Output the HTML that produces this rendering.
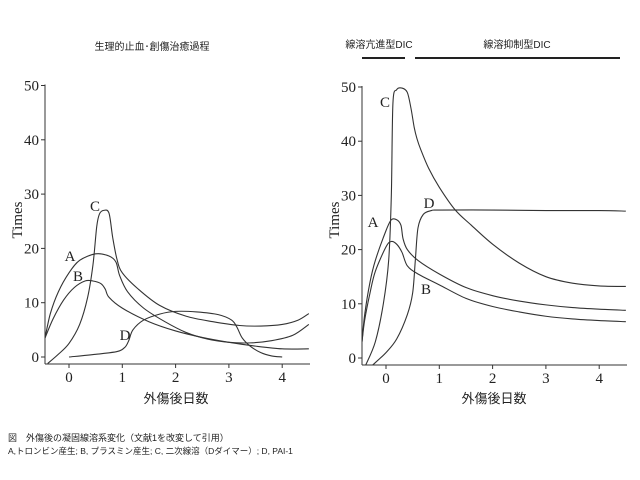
<!DOCTYPE html>
<html><head><meta charset="utf-8">
<style>
body{margin:0;background:#fff;}
svg{display:block;}
.tk{font-family:"Liberation Serif",serif;font-size:15px;fill:#222;}
.jp{font-family:"Liberation Sans","Noto Sans CJK JP",sans-serif;fill:#222;}
.ln{fill:none;stroke:#333;stroke-width:1.1;}
</style></head>
<body>
<svg id="c" width="640" height="480" viewBox="0 0 640 480">
<text class="jp" x="152" y="50" font-size="10" text-anchor="middle">生理的止血･創傷治癒過程</text>
<text class="jp" x="379" y="48" font-size="10" text-anchor="middle">線溶亢進型DIC</text>
<text class="jp" x="517" y="48" font-size="10" text-anchor="middle">線溶抑制型DIC</text>
<line x1="362" y1="58" x2="405" y2="58" stroke="#222" stroke-width="2"/>
<line x1="415" y1="58" x2="620" y2="58" stroke="#222" stroke-width="2"/>
<text class="jp" x="8" y="441" font-size="9">図　外傷後の凝固線溶系変化（文献1を改変して引用）</text>
<text class="jp" x="8" y="454" font-size="8.5">A,トロンビン産生; B, プラスミン産生; C, 二次線溶（Dダイマー）; D, PAI-1</text>
</svg>
<script>
const yTicks=[0,10,20,30,40,50];
const xTicks=[0,1,2,3,4];
const L_A_x=[-0.45,-0.35,-0.2,0,0.2,0.5,0.75,0.88,0.95,1.1,1.4,1.8,2.2,2.6,3.0,3.4,3.8,4.2,4.5];
const L_A_y=[3.5,8,12,15.5,17.8,19,18.6,17.5,15,12,9,6.5,4.5,3.3,2.7,2.6,3,4,6];
const L_B_x=[-0.45,-0.3,-0.1,0.1,0.3,0.45,0.6,0.68,0.75,1,1.5,2,2.5,3,3.5,4,4.5];
const L_B_y=[3.5,7,10.5,12.8,14,14,13.5,12.5,11,9,6.5,4.8,3.6,2.7,2,1.5,1.5];
const L_C_x=[-0.4,-0.2,0,0.2,0.35,0.45,0.52,0.57,0.65,0.75,0.82,0.9,1,1.3,1.7,2.2,2.7,3.2,3.6,4,4.3,4.5];
const L_C_y=[-1.2,0.5,2.5,6,11,17,24,26.3,27,26.5,22,18,15.5,12.5,9.5,7.5,6.5,5.8,5.7,6,6.8,8];
const L_D_x=[0,0.5,0.9,1.05,1.12,1.2,1.4,1.7,2,2.4,2.8,3.05,3.15,3.25,3.4,3.6,3.8,4];
const L_D_y=[0,0.5,1,1.8,3,5,6.8,7.9,8.4,8.3,7.8,6.8,5.5,3.5,2,0.8,0.2,0];
const R_A_x=[-0.45,-0.4,-0.3,-0.2,0,0.1,0.2,0.28,0.32,0.4,0.6,1,1.5,2,2.5,3,3.5,4,4.5];
const R_A_y=[3,8,14,18,23.5,25.5,25.5,24.5,22,20,18,15.5,13,11.5,10.5,9.8,9.3,9,8.8];
const R_B_x=[-0.45,-0.4,-0.3,-0.2,0,0.1,0.2,0.3,0.4,0.6,1,1.5,2,2.5,3,3.5,4,4.5];
const R_B_y=[3,7,12,16,20.5,21.5,21,19.5,17,15.5,13.5,11,9.5,8.5,7.7,7.2,6.9,6.7];
const R_C_x=[-0.38,-0.2,-0.05,0.05,0.1,0.13,0.2,0.3,0.4,0.47,0.53,0.58,0.65,0.8,1,1.3,1.6,2,2.5,3,3.5,4,4.5];
const R_C_y=[-1.3,3,10,18,30,47,49.5,49.8,49,46,42.5,40.5,38.5,35,31.5,27.3,24.5,21,17.5,15,13.8,13.3,13.2];
const R_D_x=[-0.25,0,0.2,0.4,0.5,0.55,0.6,0.7,0.85,1,2,3,4,4.5];
const R_D_y=[-1.3,1,3.5,8,12,18,24,26.5,27.2,27.3,27.3,27.2,27.2,27.1];
const NS='http://www.w3.org/2000/svg';
const svg=document.getElementById('c');
function mk(tag,at){const e=document.createElementNS(NS,tag);for(const k in at)e.setAttribute(k,at[k]);svg.appendChild(e);return e;}
const panels=[
 {id:'left',ax:45,x0:69,dx:53.3,y0:357,dy:5.43,bot:364,right:310,labX:176,
  series:[['A',L_A_x,L_A_y,70,261],['B',L_B_x,L_B_y,78,281],['C',L_C_x,L_C_y,95,211],['D',L_D_x,L_D_y,125,340]]},
 {id:'right',ax:362,x0:386,dx:53.3,y0:358,dy:5.42,bot:365,right:627,labX:494,
  series:[['A',R_A_x,R_A_y,373,227],['B',R_B_x,R_B_y,426,294],['C',R_C_x,R_C_y,385,107],['D',R_D_x,R_D_y,429,208]]}];
panels.forEach(p=>{
 const X=v=>p.x0+v*p.dx, Y=v=>Math.min(p.bot,p.y0-v*p.dy);
 let e=mk('line',{x1:p.ax,y1:Y(50)-1,x2:p.ax,y2:p.bot,stroke:'#333','stroke-width':1});
 
 
 e=mk('line',{x1:p.ax,y1:p.bot,x2:p.right,y2:p.bot,stroke:'#333','stroke-width':1});
 
 
 yTicks.forEach(t=>{
  mk('line',{x1:p.ax-4,y1:Y(t),x2:p.ax,y2:Y(t),stroke:'#333'});
  e=mk('text',{x:p.ax-6,y:Y(t)+5,class:'tk','text-anchor':'end'});e.textContent=t;
  
  
 });
 xTicks.forEach(t=>{
  mk('line',{x1:X(t),y1:p.bot,x2:X(t),y2:p.bot+4,stroke:'#333'});
  e=mk('text',{x:X(t),y:p.bot+18,class:'tk','text-anchor':'middle'});e.textContent=t;
  
  
 });
 e=mk('text',{x:0,y:0,class:'tk',transform:`translate(${p.ax-23},220) rotate(-90)`,'text-anchor':'middle','font-size':'16'});e.textContent='Times';
 
 
 e=mk('text',{x:p.labX,y:403,class:'jp','text-anchor':'middle','font-size':'13'});e.textContent='外傷後日数';
 
 
 p.series.forEach(s=>{
  const pts=s[1].map((x,i)=>[X(x),Y(s[2][i])]);
  let d='M'+pts[0][0]+','+pts[0][1];
  for(let i=0;i<pts.length-1;i++){
   const p0=pts[Math.max(0,i-1)],p1=pts[i],p2=pts[i+1],p3=pts[Math.min(pts.length-1,i+2)];
   const t=0.16;
   d+=` C${p1[0]+(p2[0]-p0[0])*t},${p1[1]+(p2[1]-p0[1])*t} ${p2[0]-(p3[0]-p1[0])*t},${p2[1]-(p3[1]-p1[1])*t} ${p2[0]},${p2[1]}`;
  }
  e=mk('path',{d:d,class:'ln'});
  
  
  e=mk('text',{x:s[3],y:s[4],class:'tk','text-anchor':'middle'});e.textContent=s[0];
  
  
 });
});
</script>
</body></html>
